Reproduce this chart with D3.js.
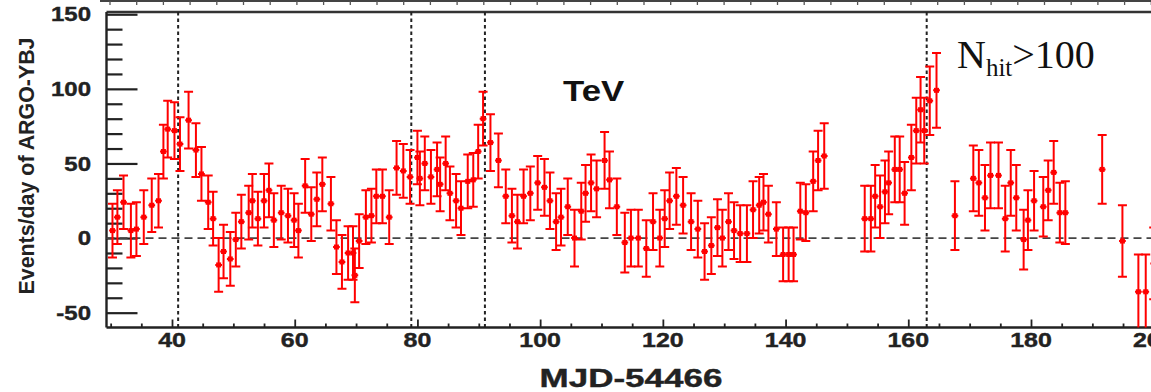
<!DOCTYPE html>
<html><head><meta charset="utf-8">
<script src="https://cdn.jsdelivr.net/npm/d3@7"></script>
<style>body{margin:0;background:#fff;} svg{display:block;}</style>
</head><body>
<svg id="c" width="1151" height="392"></svg>
<script>
// ---- data ----
const days = [
 30.3,31.1,32.1,33.3,34.2,35.4,36.7,37.8,38.6,39.3,
 40.4,41.3,42.7,43.9,44.8,45.9,46.7,47.6,48.4,49.5,
 50.4,51.3,52.5,53.1,54.0,55.0,55.8,56.6,57.8,58.9,
 59.9,60.6,61.7,62.7,63.6,64.5,65.9,66.8,67.7,68.7,
 69.5,69.8,70.5,71.6,72.5,73.3,74.3,75.4,76.6,77.7,
 78.8,80.0,80.4,81.2,82.2,83.2,83.7,84.6,85.3,86.3,
 87.1,88.2,89.1,89.9,90.7,91.9,93.2,94.4,95.4,96.3,
 97.3,98.4,99.6,100.7,101.6,102.6,103.4,104.5,105.6,106.7,
 107.4,108.3,109.2,110.5,111.3,112.5,113.8,114.8,116.0,117.3,
 118.4,119.5,120.3,121.1,122.2,123.3,124.6,125.7,126.8,127.9,
 128.9,129.7,130.7,131.6,132.6,133.7,134.7,135.7,136.4,137.2,
 138.5,139.6,140.5,141.3,142.4,143.3,144.5,145.3,146.3,
 152.9,153.9,154.6,155.4,156.2,156.8,157.8,158.6,159.4,160.5,
 161.3,162.0,162.6,163.5,164.6,
 167.6,170.6,171.5,172.5,173.4,174.7,175.8,176.7,177.6,178.8,
 179.5,180.5,182.0,182.8,183.7,184.7,185.6,191.6,194.9,197.5,
 198.7,200.0
];
const rates = [
 5,14,24,5,6,14,22,25,58,73,
 72,63,79,59,43,24,13,-18,-9,-14,
 -1,11,17,25,13,25,32,12,17,15,
 12,5,35,16,26,36,23,-6,-16,-10,
 -10,-25,-2,14,15,28,28,14,47,45,
 41,54,40,50,41,46,36,50,30,25,
 20,38,39,58,80,64,52,28,15,11,
 28,30,37,34,25,11,14,21,0,18,
 30,37,33,52,39,21,-3,0,0,-7,
 11,0,13,25,28,22,11,6,-9,-5,
 7,0,11,5,3,3,19,22,24,16,
 6,-11,-11,-11,18,17,38,52,55,
 13,13,28,21,31,37,46,46,30,54,
 72,86,72,92,99,
 15,40,37,27,42,42,13,37,27,-1,
 12,25,21,32,44,17,17,46,-2,-36,
 -36,-17
];
const errors = [
 18,18,18,18,18,18,18,18,18,19,
 19,18,19,18,18,18,18,18,18,18,
 18,18,18,18,18,18,18,18,18,18,
 18,18,18,18,18,18,18,18,18,18,
 18,18,18,18,18,18,18,18,18,18,
 18,18,18,18,18,18,18,18,18,18,
 18,18,18,18,18,19,18,18,18,18,
 18,18,18,19,19,19,19,19,19,19,
 19,19,19,19,19,19,20,19,19,19,
 19,19,19,19,19,19,19,19,19,19,
 19,19,19,19,19,19,19,19,19,19,
 18,18,18,18,19,19,20,20,22,
 22,22,21,21,21,21,22,22,21,22,
 22,22,22,23,25,
 23,22,22,22,22,22,22,22,22,20,
 20,20,20,20,21,20,21,23,24,25,
 25,24
];
const xTickLabels = [40,60,80,100,120,140,160,180,200];
const yTickLabels = [-50,0,50,100,150];
const flareDays = [41,79,91,163];

// ---- layout ----
const svg = d3.select('#c');
const L = 106.5, T = 12, B = 327.5, R = 1240;
const x = d3.scaleLinear().domain([40,180]).range([172,1031]);
const y = d3.scaleLinear().domain([-60,151.5]).range([327.6,12]);
const sans = "'Liberation Sans', Arial, Helvetica, sans-serif";

// upper panel remnant at top
svg.append('line').attr('x1',100).attr('x2',1151).attr('y1',1).attr('y2',1)
  .attr('stroke','#444').attr('stroke-width',2);
svg.append('g').selectAll('line').data(d3.range(0,40)).join('line')
  .attr('x1',d=>110+d*26.7).attr('x2',d=>110+d*26.7).attr('y1',1).attr('y2',5)
  .attr('stroke','#555').attr('stroke-width',1.3);

// clip
svg.append('defs').append('clipPath').attr('id','pc').append('rect')
  .attr('x',L).attr('y',T).attr('width',R-L).attr('height',B-T);

// y axis ticks (inward)
const yMinor = d3.range(-50,151,10).filter(v=>v%50!==0);
svg.append('g').attr('transform',`translate(${L},0)`)
  .call(d3.axisRight(y).tickValues(yTickLabels).tickSize(31).tickFormat(''))
  .call(g=>{g.select('.domain').remove(); g.selectAll('line').attr('stroke','#222').attr('stroke-width',2.2);});
svg.append('g').attr('transform',`translate(${L},0)`)
  .call(d3.axisRight(y).tickValues(yMinor).tickSize(16).tickFormat(''))
  .call(g=>{g.select('.domain').remove(); g.selectAll('line').attr('stroke','#222').attr('stroke-width',2.2);});

// x axis ticks (inward, upward)
const xMinor = d3.range(30,201,5).filter(v=>v%20!==0);
svg.append('g').attr('transform',`translate(0,${B})`)
  .call(d3.axisTop(x).tickValues(xTickLabels).tickSize(8).tickFormat(''))
  .call(g=>{g.select('.domain').remove(); g.selectAll('line').attr('stroke','#222').attr('stroke-width',1.8);});
svg.append('g').attr('transform',`translate(0,${B})`)
  .call(d3.axisTop(x).tickValues(xMinor).tickSize(4).tickFormat(''))
  .call(g=>{g.select('.domain').remove(); g.selectAll('line').attr('stroke','#222').attr('stroke-width',1.8);});

// frame
svg.append('line').attr('x1',L).attr('x2',1151).attr('y1',T).attr('y2',T).attr('stroke','#333').attr('stroke-width',2.6);
svg.append('line').attr('x1',L).attr('x2',1151).attr('y1',B).attr('y2',B).attr('stroke','#222').attr('stroke-width',2.4);
svg.append('line').attr('x1',L).attr('x2',L).attr('y1',T).attr('y2',B).attr('stroke','#222').attr('stroke-width',2.4);

// reference lines
svg.append('line').attr('x1',L).attr('x2',1151).attr('y1',y(0)).attr('y2',y(0))
  .attr('stroke','#444').attr('stroke-width',1.8).attr('stroke-dasharray','8,5');
svg.append('g').selectAll('line').data(flareDays).join('line')
  .attr('x1',d=>x(d)).attr('x2',d=>x(d)).attr('y1',T).attr('y2',B)
  .attr('stroke','#222').attr('stroke-width',2).attr('stroke-dasharray','3.5,3');

// tick labels
svg.append('g').selectAll('text').data(yTickLabels).join('text')
  .attr('transform',d=>`translate(91,${y(d)}) scale(1.2,1)`)
  .attr('text-anchor','end').attr('dy','0.36em')
  .attr('font-family',sans).attr('font-weight','bold').attr('font-size',20).attr('fill','#222')
  .attr('stroke','#222').attr('stroke-width',0.4)
  .text(d=>d);
svg.append('g').selectAll('text').data(xTickLabels).join('text')
  .attr('transform',d=>`translate(${x(d)},347) scale(1.28,1)`)
  .attr('text-anchor','middle')
  .attr('font-family',sans).attr('font-weight','bold').attr('font-size',19.5).attr('fill','#222')
  .attr('stroke','#222').attr('stroke-width',0.4)
  .text(d=>d);

// axis titles
svg.append('text').attr('transform','translate(631,387) scale(1.4,1)')
  .attr('text-anchor','middle').attr('font-family',sans).attr('font-weight','bold')
  .attr('font-size',25).attr('fill','#222').attr('stroke','#222').attr('stroke-width',0.4).text('MJD-54466');
svg.append('text').attr('transform','translate(34,166) scale(1.15,1) rotate(-90)')
  .attr('text-anchor','middle').attr('font-family',sans).attr('font-weight','bold')
  .attr('font-size',19).attr('fill','#222').attr('textLength',257).attr('lengthAdjust','spacingAndGlyphs')
  .text('Events/day of ARGO-YBJ');

// annotations
svg.append('text').attr('transform','translate(563,101) scale(1.2,1)')
  .attr('font-family',sans).attr('font-weight','bold').attr('font-size',29).attr('fill','#111').text('TeV');
const nh = svg.append('text').attr('x',957).attr('y',68)
  .attr('font-family',"'Liberation Serif','Times New Roman',serif").attr('font-size',40).attr('fill','#111');
nh.append('tspan').text('N');
nh.append('tspan').attr('font-size',25).attr('dy',8).text('hit');
nh.append('tspan').attr('dy',-8).text('>100');

// data
const pts = days.map((d,i)=>({d, r:rates[i], e:errors[i]}));
const g = svg.append('g').attr('clip-path','url(#pc)');
const red = '#ff0000';
const cap = 4.5, sw = 2;
const pg = g.selectAll('g.pt').data(pts).join('g').attr('class','pt');
pg.append('line').attr('x1',p=>x(p.d)).attr('x2',p=>x(p.d))
  .attr('y1',p=>y(p.r+p.e)).attr('y2',p=>y(p.r-p.e)).attr('stroke',red).attr('stroke-width',sw);
pg.append('line').attr('x1',p=>x(p.d)-cap).attr('x2',p=>x(p.d)+cap)
  .attr('y1',p=>y(p.r+p.e)).attr('y2',p=>y(p.r+p.e)).attr('stroke',red).attr('stroke-width',sw);
pg.append('line').attr('x1',p=>x(p.d)-cap).attr('x2',p=>x(p.d)+cap)
  .attr('y1',p=>y(p.r-p.e)).attr('y2',p=>y(p.r-p.e)).attr('stroke',red).attr('stroke-width',sw);
pg.append('line').attr('x1',p=>x(p.d-0.55)).attr('x2',p=>x(p.d+0.55))
  .attr('y1',p=>y(p.r)).attr('y2',p=>y(p.r)).attr('stroke',red).attr('stroke-width',sw);
pg.append('rect').attr('x',p=>x(p.d)-2.5).attr('y',p=>y(p.r)-2.5).attr('width',5).attr('height',5).attr('fill',red);
</script>
</body></html>
